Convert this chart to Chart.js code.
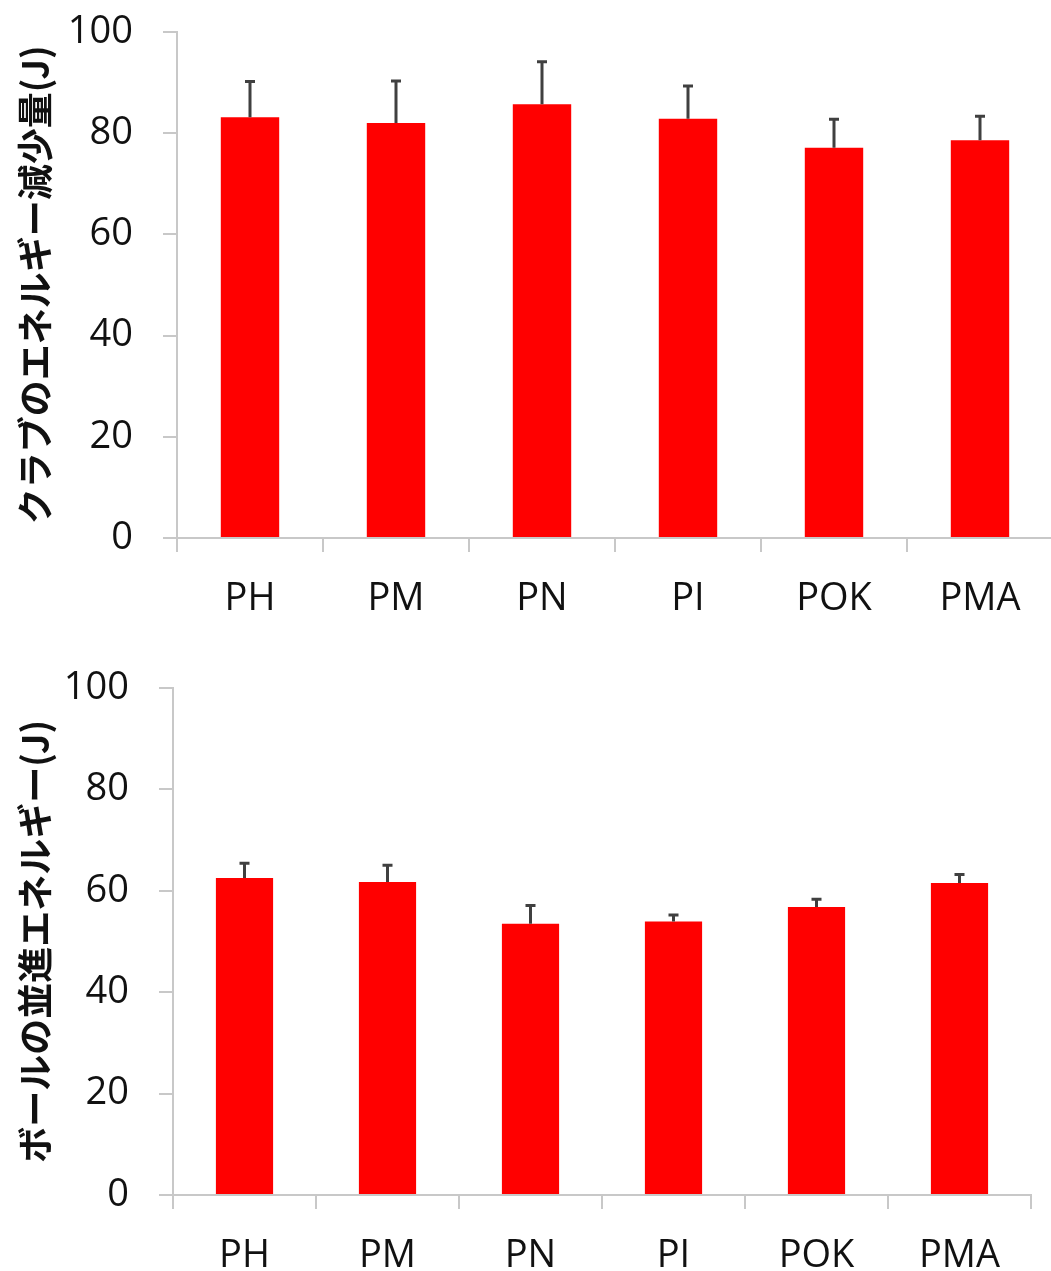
<!DOCTYPE html>
<html>
<head>
<meta charset="utf-8">
<script src="https://cdn.jsdelivr.net/npm/chart.js@4.4.1/dist/chart.umd.min.js"></script>
<style>
  html, body { margin: 0; padding: 0; background: #fff; overflow: hidden; }
  .box { position: absolute; left: 0; }
  #top { top: -21px; width: 1053px; height: 639px; }
  #bottom { top: 635px; width: 1051px; height: 636px; }
</style>
</head>
<body>
<div class="box" id="top"><canvas id="clubChart" width="1053" height="639"></canvas></div>
<div class="box" id="bottom"><canvas id="ballChart" width="1051" height="636"></canvas></div>
<script>
const categories = ['PH', 'PM', 'PN', 'PI', 'POK', 'PMA'];
const clubEnergyLoss = [83.1, 82.0, 85.7, 82.8, 77.1, 78.6];
const clubEnergyErr = [7.1, 8.3, 8.4, 6.5, 5.6, 4.7];
const ballEnergy = [62.5, 61.7, 53.5, 53.9, 56.8, 61.5];
const ballEnergyErr = [2.9, 3.3, 3.6, 1.3, 1.5, 1.7];
const yMin = 0, yMax = 100, yStep = 20;

const tickFont = { family: '"Open Sans", sans-serif', size: 38 };
const titleFont = { family: '"Noto Sans CJK JP", sans-serif', size: 36, weight: 'bold' };
const axisGray = '#c8c8c8';

// draws the standard-deviation whiskers above each bar
const errorBars = {
  id: 'errorBars',
  afterDatasetsDraw(chart) {
    const errs = chart.options.plugins.errorBars.values;
    const meta = chart.getDatasetMeta(0);
    const y = chart.scales.y;
    const ctx = chart.ctx;
    ctx.save();
    ctx.strokeStyle = '#404040';
    ctx.lineWidth = 3;
    meta.data.forEach((bar, i) => {
      const v = chart.data.datasets[0].data[i];
      const yTop = y.getPixelForValue(v + errs[i]);
      const yBase = y.getPixelForValue(v);
      ctx.beginPath();
      ctx.moveTo(bar.x, yBase);
      ctx.lineTo(bar.x, yTop);
      ctx.moveTo(bar.x - 5, yTop);
      ctx.lineTo(bar.x + 5, yTop);
      ctx.stroke();
    });
    ctx.restore();
  }
};

function makeChart(id, values, errs, title, area) {
  return new Chart(document.getElementById(id), {
    type: 'bar',
    data: {
      labels: categories,
      datasets: [{
        data: values,
        backgroundColor: '#ff0000',
        borderWidth: 0,
        categoryPercentage: 1,
        barPercentage: 0.4
      }]
    },
    options: {
      responsive: false,
      animation: false,
      layout: { padding: { top: 0, right: area.right, bottom: 0, left: 0 } },
      plugins: {
        legend: { display: false },
        tooltip: { enabled: false },
        errorBars: { values: errs }
      },
      scales: {
        x: {
          grid: { offset: true, drawOnChartArea: false, color: axisGray, lineWidth: 2, tickLength: 14 },
          border: { color: axisGray, width: 2 },
          ticks: { font: tickFont, color: '#111', padding: 24, maxRotation: 0 },
          afterFit: s => { s.height = area.xHeight; }
        },
        y: {
          min: yMin,
          max: yMax,
          grid: { drawOnChartArea: false, color: axisGray, lineWidth: 2, tickLength: 14 },
          border: { color: axisGray, width: 2 },
          ticks: { stepSize: yStep, font: tickFont, color: '#111', padding: 30 },
          title: { display: true, text: title, font: titleFont, color: '#111', padding: { top: 14, bottom: 0 } },
          afterFit: s => { s.width = area.left; }
        }
      }
    },
    plugins: [errorBars]
  });
}

makeChart('clubChart', clubEnergyLoss, clubEnergyErr, 'クラブのエネルギー減少量(J)',
  { left: 177, right: 0, xHeight: 80 });
makeChart('ballChart', ballEnergy, ballEnergyErr, 'ボールの並進エネルギー(J)',
  { left: 173, right: 20, xHeight: 76 });
</script>
</body>
</html>
